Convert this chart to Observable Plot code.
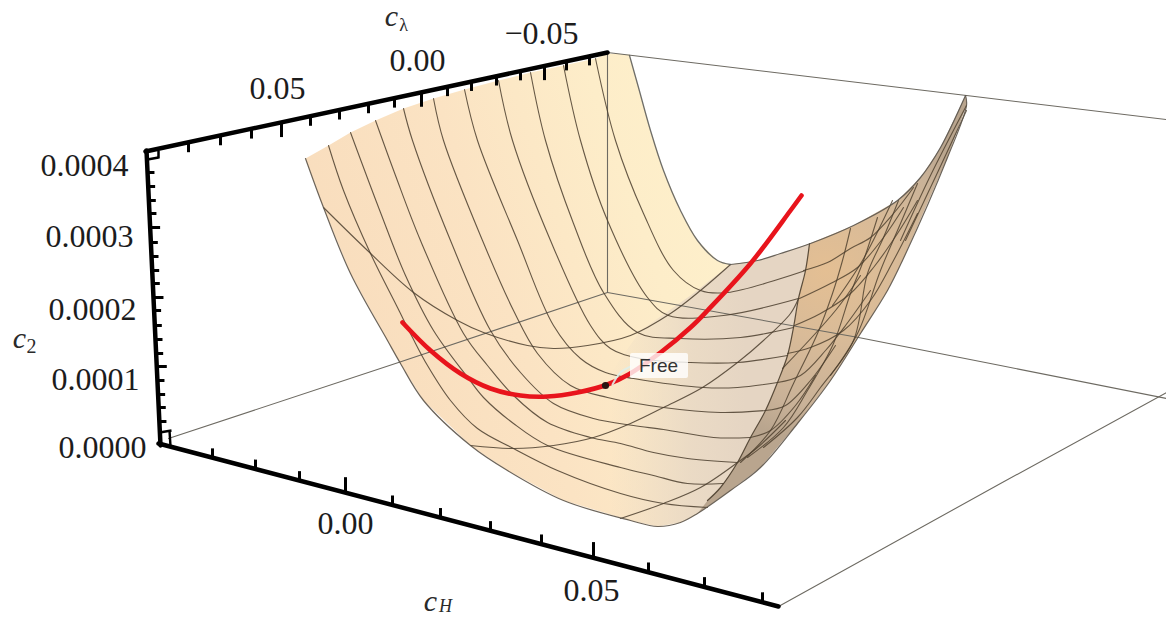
<!DOCTYPE html>
<html><head><meta charset="utf-8">
<style>html,body{margin:0;padding:0;background:#fff}svg{display:block}</style>
<script src="https://cdn.jsdelivr.net/npm/d3@7"></script>
<script src="https://cdn.jsdelivr.net/npm/@observablehq/plot@0.6"></script>
</head><body><div id="c"></div>
<script>
const zTickY = [172,186,200,213,227,242,256,270,283,297,310,325,339,353,366,380,394,407,421];
const zMajorY = [227,297,366];
const lambdaTickX = [188,220,251,281,310,339,368,394,421,447,471,496,520,544,566,589];
const lambdaMajorX = [281,421,544];
const hTickX = [212,255,299,345,392,440,490,541,593,648,704,762];
const hMajorX = [345,593];

const zLabels = [["0.0004",128,165],["0.0003",133,236],["0.0002",136,309],["0.0001",139,379],["0.0000",146,447]];
const lambdaLabels = [["0.05",277,88],["0.00",417,60],["\u22120.05",541,33]];
const hLabels = [["0.00",345,523],["0.05",591,590]];

const topEdge = [[305,158],[328,145],[350,132],[375,120],[403,108],[433,98],[464,89],[498,80],[530,72],[563,65],[595,58],[607,53],[629,54]];
const backEdge = [[629,55],[638,87],[650,130],[663,170],[680,210],[697,240],[717,260],[730,264]];
const rimEdge = [[730,264],[757,260],[780,253],[810,243],[853,225],[897,200],[920,177],[940,147],[965,95]];
const frontEdge = [[305,158],[323,207],[350,273],[387,340],[400,363],[423,400],[470,445],[507,470],[563,500],[630,520],[657,526],[680,522],[697,513],[730,490],[760,467],[797,423],[830,380],[860,333],[887,290],[902,260],[947,157],[966,105],[965,95]];
const seam = [[809,243],[805,270],[798,298],[793,327],[787,355],[777,382],[765,410],[750,437],[737,462],[720,487],[707,500]];

const meshA = [
 [[328,145],[343,190],[370,253],[397,307],[412,337],[427,365],[450,400],[477,428],[513,448],[557,470],[620,493],[663,503],[707,507]],
 [[350,132],[380,212],[405,275],[433,330],[468,378],[483,397],[513,423],[547,445],[620,467],[653,475],[687,483],[723,483]],
 [[375,120],[395,175],[420,240],[463,333],[487,365],[513,395],[547,422],[590,437],[620,443],[653,452],[687,458],[737,462]],
 [[403,108],[412,140],[450,240],[490,330],[520,372],[553,403],[593,418],[633,425],[663,429],[713,437],[750,437]],
 [[433,98],[443,140],[482,240],[513,310],[537,353],[570,385],[607,397],[663,407],[720,412],[765,410]],
 [[464,89],[477,140],[517,240],[553,325],[580,358],[605,372],[633,378],[703,387],[737,387],[777,382]],
 [[498,80],[512,140],[550,240],[590,325],[610,348],[640,358],[690,362],[737,362],[787,355]],
 [[530,72],[545,140],[573,223],[603,292],[637,332],[680,338],[740,337],[793,327]],
 [[563,65],[580,140],[607,220],[647,297],[668,315],[723,315],[798,298]],
 [[595,58],[615,140],[643,213],[673,270],[700,290],[727,292],[805,270]]
];
const meshB = [
 [[323,207],[367,250],[413,292],[457,320],[483,332],[527,345],[553,348],[587,345],[630,335],[670,313],[700,290],[730,264]],
 [[470,445],[513,448],[553,445],[593,437],[630,423],[663,407],[702,387],[737,362],[763,340],[790,313],[798,298]],
 [[620,518],[663,503],[700,487],[737,462]]
];
const flapMesh = [
 [[803,270],[827,262],[850,248],[870,237],[893,213],[913,187]],
 [[799,298],[830,283],[857,267],[883,237],[903,207]],
 [[794,325],[820,313],[850,293],[873,267],[897,233],[917,200]],
 [[787,353],[810,347],[843,330],[870,300],[893,260],[917,213]],
 [[777,382],[800,375],[825,350],[845,325],[870,290]],
 [[765,410],[785,405],[810,380],[835,345]],
 [[750,437],[770,430],[795,405],[815,375]],
 [[737,462],[757,447],[785,420]],
 [[850,228],[842,260],[832,293],[817,333],[793,383],[770,430],[740,462]],
 [[877,217],[863,260],[850,293],[833,343],[807,390],[783,427],[747,457]],
 [[898,200],[883,237],[867,273],[853,340],[820,387],[797,417],[763,447]],
 [[917,183],[900,223],[880,270],[857,333],[830,375]],
 [[832,305],[862,260],[892,200]],
 [[966,105],[930,175],[900,240]],
 [[966,110],[938,170],[905,240]],
 [[782,368],[835,310],[860,275]]
];
const freeCurve = [[402,322],[430,350],[460,373],[490,388],[520,395],[547,396],[577,392],[607,384],[628,374],[660,352],[690,327],[707,310],[750,263],[790,210],[801,195]];
const freePoint = [[605,385]];
const boxLines = [
 [[607,52],[966,95],[1166,119]],
 [[778,606],[1000,483],[1166,392]],
 [[168,438],[398,362],[607,292]],
 [[607,52],[607,292]],
 [[607,292],[858,337],[1000,365],[1166,398]]
];

const xOnZ = y => 145 + (y-152)*14/291;
const yOnL = x => 152 - (x-145)*100/462;
const yOnH = x => 443 + (x-159)*162/619;
const pts = a => a.map(([x,y]) => ({x,y}));
const surface = [...topEdge, ...backEdge, ...rimEdge.slice(1,4), ...seam.slice(1), [697,513],[680,522],[657,526],[630,520],[563,500],[507,470],[470,445],[423,400],[400,363],[387,340],[350,273],[323,207]];
const grey = [[730,264],[757,260],[780,253],[810,243],[805,270],[798,298],[793,327],[787,355],[777,382],[765,410],[750,437],[737,462],[720,487],[707,500],[697,513],[680,522],[657,526],[630,520],[605,512],[605,380],[640,330],[690,295]];
const flap = [[809,243],[853,225],[897,200],[920,177],[940,147],[965,95],[966,105],[947,157],[902,260],[887,290],[860,333],[830,380],[797,423],[760,467],[730,490],[697,513],[707,500],[720,487],[737,462],[750,437],[765,410],[777,382],[787,355],[793,327],[798,298],[805,270]];

const defs = () => {
  const d = d3.create("svg:defs");
  const grad = (id, x1,y1,x2,y2, stops) => {
    const g = d.append("linearGradient").attr("id",id).attr("gradientUnits","userSpaceOnUse")
      .attr("x1",x1).attr("y1",y1).attr("x2",x2).attr("y2",y2);
    for (const [o,c,a] of stops) g.append("stop").attr("offset",o).attr("stop-color",c).attr("stop-opacity",a??1);
  };
  grad("gS",310,330,720,190,[[0,"#f8dcbc"],[.45,"#fbe3c3"],[.8,"#fdedc9"],[1,"#fef0cb"]]);
  grad("gG",610,0,745,0,[[0,"#e6d6c4",0],[.6,"#e6d6c4",.8],[1,"#e5d5c3",1]]);
  const r = d.append("radialGradient").attr("id","gF").attr("gradientUnits","userSpaceOnUse")
    .attr("cx",825).attr("cy",270).attr("r",170);
  for (const [o,c] of [[0,"#e4bf93"],[.4,"#d9bb98"],[.8,"#c9b298"],[1,"#b9a58e"]]) r.append("stop").attr("offset",o).attr("stop-color",c);
  return d.node();
};

const fill = (a, f) => Plot.line(pts(a), {x:"x", y:"y", fill:f, stroke:"none", curve:"linear"});
const stroke = (a, s, w, o=1, curve="catmull-rom") => Plot.line(pts(a), {x:"x", y:"y", stroke:s, strokeWidth:w, strokeOpacity:o, curve, fill:"none"});
const tick = (rows, opt={}) => Plot.link(rows, {x1:"a", y1:"b", x2:"c", y2:"d", stroke:"#000", strokeWidth:3, ...opt});
const serif = "Liberation Serif";
const labels = (rows, textAnchor="middle") => Plot.text(rows, {x:d=>d[1], y:d=>d[2], text:d=>d[0], fontSize:32, fontFamily:serif, fill:"#1c1c1c", textAnchor});
const sym = (t,x,y,s,st="italic") => Plot.text([t], {x:()=>x, y:()=>y, text:d=>d, fontSize:s, fontFamily:serif, fontStyle:st, fill:"#2a2a2a"});

const zRows = zTickY.map(y => { const x=xOnZ(y), l=zMajorY.includes(y)?11:8; return {a:x,b:y,c:x+l,d:y}; });
const lRows = lambdaTickX.map(x => ({a:x,b:yOnL(x),c:x,d:yOnL(x)+(lambdaMajorX.includes(x)?14:9)}));
const hRows = hTickX.map(x => ({a:x,b:yOnH(x),c:x,d:yOnH(x)-(hMajorX.includes(x)?15:9)}));
const cornerRows = [{a:147,b:159,c:158,d:157},{a:158,b:150,c:158,d:158},{a:159,b:432,c:171,d:430},{a:170,b:446,c:169,d:430}];

const chart = Plot.plot({
  width:1166, height:619, margin:0,
  x:{domain:[0,1166], range:[0,1166], axis:null},
  y:{domain:[0,619], range:[0,619], axis:null},
  style:{background:"#fff"},
  marks:[
    defs,
    fill(surface,"url(#gS)"),
    fill(grey,"url(#gG)"),
    fill(flap,"url(#gF)"),
    ...boxLines.map(l => stroke(l,"#6d6a62",1.1,1,"linear")),
    ...meshA.map(l => stroke(l,"#4b3e2e",1.1,.85)),
    ...meshB.map(l => stroke(l,"#4b3e2e",1.1,.85)),
    ...flapMesh.map(l => stroke(l,"#4a3c2a",1.1,.8)),
    stroke(seam,"#4b3e2e",1.2,.9),
    stroke(frontEdge,"#5c5348",1.2,.9),
    stroke(backEdge,"#5f5f5c",1.3,.9),
    stroke(rimEdge,"#5f5a52",1.2,.95),
    stroke(freeCurve,"#e8141c",4.6,1),
    Plot.dot(pts(freePoint),{x:"x",y:"y",r:3.6,fill:"#2a1512"}),
    stroke([[612,384],[620,372],[630,366]],"#dfeee8",2,.9),
    Plot.rect([{a:630,b:353,c:688,d:378}],{x1:"a",y1:"b",x2:"c",y2:"d",fill:"#fff",fillOpacity:.8,rx:2}),
    Plot.text(["Free"],{x:()=>658,y:()=>365,text:d=>d,fontSize:19,fontFamily:"Liberation Sans",fill:"#333"}),
    stroke([[145,151],[607,52]],"#000",4.5,1,"linear"),
    stroke([[146,150],[160,445]],"#000",4.5,1,"linear"),
    stroke([[158,443],[778,606]],"#000",4.5,1,"linear"),
    tick(zRows), tick(lRows), tick(hRows), tick(cornerRows,{strokeWidth:2.5}),
    labels(zLabels,"end"), labels(lambdaLabels), labels(hLabels),
    sym("c",391,16,30), sym("\u03bb",403,25,18,"normal"),
    sym("c",19,338,30), sym("2",31,346,20,"normal"),
    sym("c",430,601,30), sym("H",445,606,18)
  ]
});
document.getElementById("c").append(chart);
</script></body></html>
